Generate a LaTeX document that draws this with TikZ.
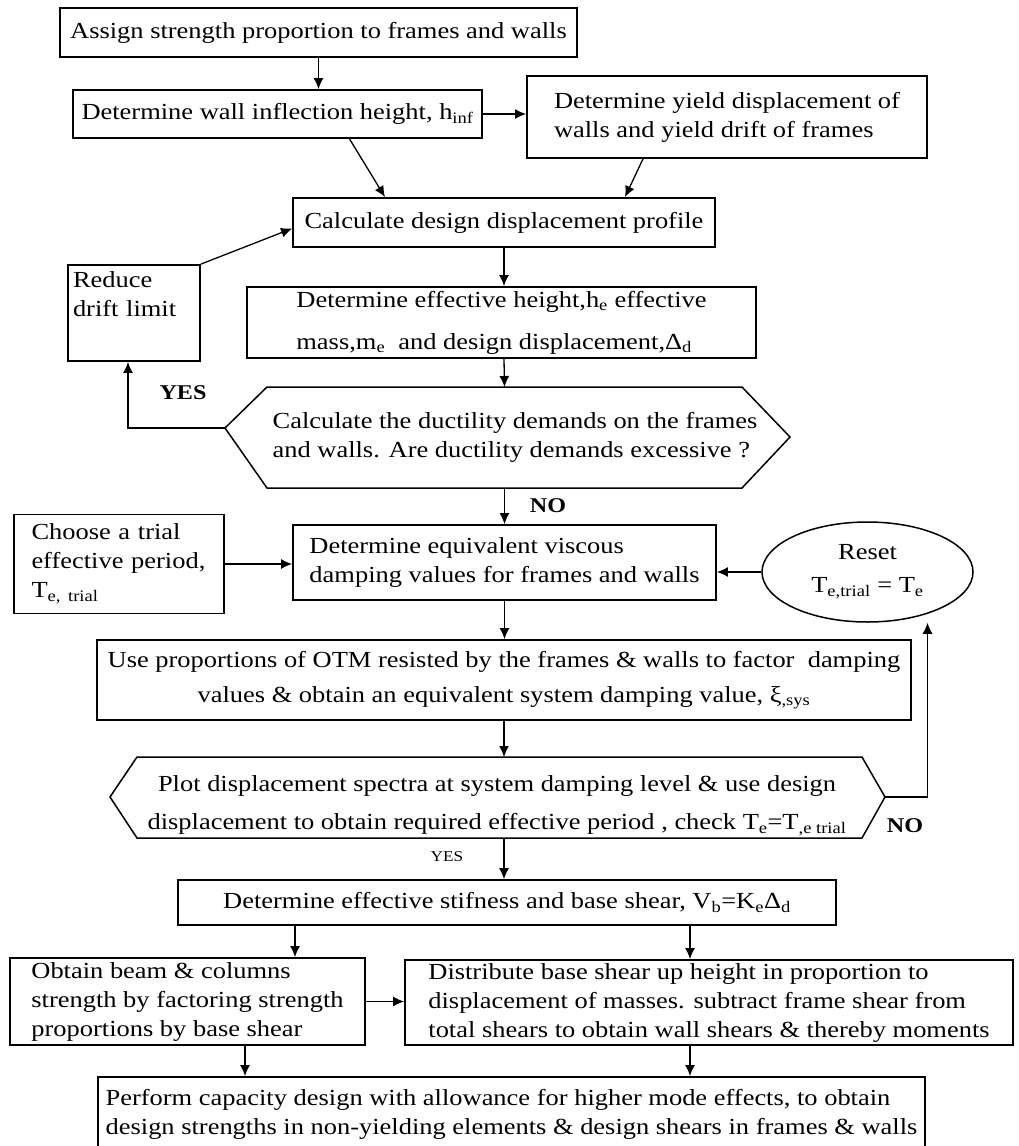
\documentclass[tikz,border=0pt]{standalone}
\usepackage{fontspec}
\setmainfont[FakeStretch=1.15]{Liberation Serif}
\usetikzlibrary{arrows.meta,positioning,shapes.geometric}

\begin{document}
\begin{tikzpicture}[x=1pt,y=-1pt,
  every node/.style={font=\fontsize{23}{29}\selectfont},
  stepbox/.style={draw, line width=1.8pt, inner sep=0pt, align=center},
  hexa/.style={draw, line width=1.5pt},
  arr/.style={-{Latex[length=11pt,width=10pt]}, line width=1.3pt},
  lbl/.style={font=\fontsize{21}{25}\selectfont\bfseries}]

  \fill[white] (0,0) rectangle (1018,1146);
  \useasboundingbox (0,0) rectangle (1018,1146);

  \node[stepbox, minimum width=517, minimum height=49] (assign) at (318.5,32.5) {Assign strength proportion to frames and walls};
  \node[stepbox, minimum width=409, minimum height=48] (inflect) at (277.5,114) {Determine wall inflection height, h\textsubscript{inf}};
  \node[stepbox, align=left, minimum width=400, minimum height=82] (yield) at (727,117) {Determine yield displacement of\\walls and yield drift of frames};
  \node[stepbox, minimum width=422, minimum height=49] (profile) at (504,222.5) {Calculate design displacement profile};
  \node[stepbox, align=left, text width=122, minimum width=132, minimum height=96] (reduce) at (134,313) {Reduce\\drift limit\\\strut};
  \node[stepbox, align=left, minimum width=509, minimum height=71] (effheight) at (501.5,322.5) {Determine effective height,h\textsubscript{e} effective\\[13pt]mass,m\textsubscript{e}\ \ and design displacement,Δ\textsubscript{d}};

  % ductility check
  \draw[hexa] (267,387) -- (742,387) -- (790,437) -- (742,488) -- (267,488) -- (225,428) -- cycle;
  \node[align=left] (dec1) at (515,437) {Calculate the ductility demands on the frames\\and walls. Are ductility demands excessive ?};
  \coordinate (dec1n) at (504.5,387);
  \coordinate (dec1s) at (504.5,488);
  \coordinate (dec1w) at (225,428);

  \node[stepbox, align=left, text width=175, minimum width=210, minimum height=99] (choose) at (119,564) {Choose a trial\\effective period,\\T\textsubscript{e, trial}};
  \node[stepbox, align=left, minimum width=423, minimum height=75] (damping) at (504.5,562.5) {Determine equivalent viscous\\damping values for frames and walls};
  \node[ellipse, draw, line width=1.5pt, minimum width=211, minimum height=100, inner sep=0pt, align=center] (reset) at (867.5,572) {Reset\\[4pt]T\textsubscript{e,trial} = T\textsubscript{e}};
  \node[stepbox, minimum width=814, minimum height=80] (otm) at (504,680) {Use proportions of OTM resisted by the frames \& walls to factor\ \ damping\\[6pt]values \& obtain an equivalent system damping value, ξ\textsubscript{,sys}};

  % period check
  \draw[hexa] (137,757) -- (862,757) -- (885,797) -- (862,838) -- (137,838) -- (110,797) -- cycle;
  \node[align=center] (dec2) at (497,806) {Plot displacement spectra at system damping level \& use design\\[9pt]displacement to obtain required effective period , check T\textsubscript{e}=T\textsubscript{,e trial}};
  \coordinate (dec2n) at (504,757);
  \coordinate (dec2s) at (504,838);
  \coordinate (dec2e) at (885,797);

  \node[stepbox, minimum width=658, minimum height=45] (stiff) at (507,902.5) {Determine effective stifness and base shear, V\textsubscript{b}=K\textsubscript{e}Δ\textsubscript{d}};
  \node[stepbox, align=left, minimum width=355, minimum height=87] (beams) at (187.5,1001.5) {Obtain beam \& columns\\strength by factoring strength\\proportions by base shear};
  \node[stepbox, align=left, minimum width=608, minimum height=85] (distr) at (709,1002.5) {Distribute base shear up height in proportion to\\displacement of masses. subtract frame shear from\\total shears to obtain wall shears \& thereby moments};
  \node[stepbox, align=left, minimum width=827, minimum height=74] (capacity) at (511.5,1114) {Perform capacity design with allowance for higher mode effects, to obtain\\design strengths in non-yielding elements \& design shears in frames \& walls};

  \node[lbl] (yes1) at (183,393) {YES};
  \node[lbl] (no1) at (548,506) {NO};
  \node[lbl] (no2) at (905,826) {NO};
  \node[font=\fontsize{15}{18}\selectfont] (yes2) at (447,857) {YES};

  \coordinate (s1) at ([xshift=-212pt]stiff.south);
  \coordinate (s2) at ([xshift=183pt]stiff.south);
  \coordinate (b1) at ([xshift=57.5pt]beams.south);
  \coordinate (d1) at ([xshift=-19pt]distr.south);

  \draw[arr] (assign.south) -- (assign.south |- inflect.north);
  \draw[arr] (inflect.east) -- (inflect.east -| yield.west);
  \draw[arr] ([xshift=72pt]inflect.south) -- ([xshift=-119pt]profile.north);
  \draw[arr] ([xshift=-84pt]yield.south) -- ([xshift=121pt]profile.north);
  \draw[arr] (profile.south) -- (profile.south |- effheight.north);
  \draw[arr] (reduce.north east) -- ([yshift=-6pt]profile.west);
  \draw[arr] (profile.south |- effheight.south) -- (dec1n);
  \draw[arr] (dec1w) -| ([xshift=-6pt]reduce.south);
  \draw[arr] (dec1s) -- (damping.north);
  \draw[arr] (choose.east) -- (choose.east -| damping.west);
  \draw[arr] (reset.west) -- (reset.west -| damping.east);
  \draw[arr] (damping.south) -- (damping.south |- otm.north);
  \draw[arr] (otm.south) -- (dec2n);
  \draw[arr] (dec2e) -| ([xshift=60pt]reset.south);
  \draw[arr] (dec2s) -- (dec2s |- stiff.north);
  \draw[arr] (s1) -- (s1 |- beams.north);
  \draw[arr] (s2) -- (s2 |- distr.north);
  \draw[arr] (beams.east) -- (beams.east -| distr.west);
  \draw[arr] (b1) -- (b1 |- capacity.north);
  \draw[arr] (d1) -- (d1 |- capacity.north);
\end{tikzpicture}
\end{document}
